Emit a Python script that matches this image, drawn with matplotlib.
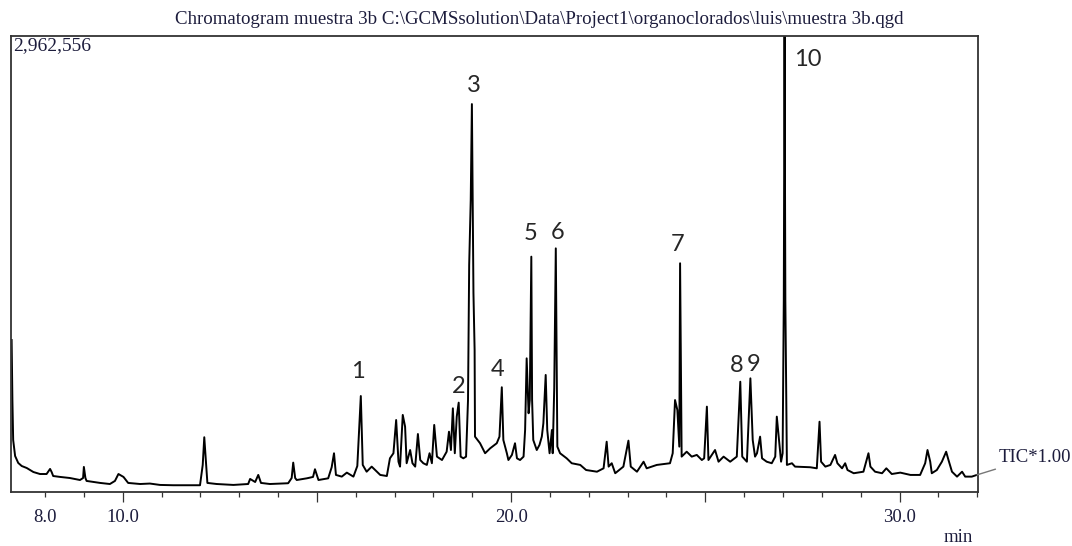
import matplotlib
matplotlib.use('Agg')
import matplotlib.pyplot as plt

# TIC trace (retention time in min, intensity in thousands of counts)
ret_time = [
    7.14, 7.16, 7.18, 7.23, 7.31, 7.40, 7.53, 7.70, 7.87, 8.04,
    8.13, 8.17, 8.21, 8.39, 8.64, 8.90, 8.98, 9.00, 9.04, 9.07,
    9.42, 9.67, 9.80, 9.89, 10.02, 10.14, 10.45, 10.70, 10.96, 11.30,
    11.99, 12.06, 12.10, 12.15, 12.18, 12.42, 12.85, 13.23, 13.28, 13.41,
    13.49, 13.56, 13.79, 14.26, 14.35, 14.39, 14.44, 14.48, 14.74, 14.90,
    14.95, 15.04, 15.29, 15.38, 15.44, 15.49, 15.64, 15.77, 15.94, 16.04,
    16.13, 16.18, 16.28, 16.41, 16.63, 16.80, 16.88, 16.97, 17.04, 17.10,
    17.14, 17.21, 17.27, 17.31, 17.40, 17.46, 17.53, 17.60, 17.66, 17.74,
    17.83, 17.90, 17.96, 18.02, 18.09, 18.22, 18.34, 18.40, 18.45, 18.50,
    18.55, 18.60, 18.65, 18.70, 18.77, 18.84, 18.89, 18.92, 18.96, 18.99,
    19.01, 19.03, 19.06, 19.07, 19.20, 19.33, 19.46, 19.63, 19.70, 19.76,
    19.80, 19.89, 19.93, 20.02, 20.10, 20.15, 20.23, 20.32, 20.36, 20.40,
    20.45, 20.48, 20.52, 20.54, 20.57, 20.66, 20.73, 20.79, 20.83, 20.89,
    20.93, 20.99, 21.05, 21.07, 21.11, 21.15, 21.19, 21.26, 21.43, 21.56,
    21.78, 21.93, 22.21, 22.38, 22.46, 22.51, 22.59, 22.68, 22.89, 23.02,
    23.08, 23.24, 23.41, 23.49, 23.75, 24.09, 24.16, 24.22, 24.28, 24.33,
    24.35, 24.39, 24.52, 24.65, 24.78, 24.91, 24.97, 25.04, 25.08, 25.25,
    25.34, 25.47, 25.64, 25.81, 25.90, 25.95, 26.07, 26.16, 26.22, 26.28,
    26.33, 26.41, 26.46, 26.58, 26.71, 26.80, 26.84, 26.88, 26.95, 26.99,
    27.02, 27.04, 27.06, 27.10, 27.23, 27.31, 27.70, 27.87, 27.94, 27.98,
    28.09, 28.22, 28.34, 28.40, 28.52, 28.60, 28.66, 28.82, 29.07, 29.20,
    29.25, 29.37, 29.55, 29.66, 29.80, 30.02, 30.28, 30.53, 30.66, 30.72,
    30.79, 30.83, 30.96, 31.09, 31.20, 31.26, 31.35, 31.48, 31.61, 31.69,
    31.86, 31.99,
]
tic_k = [
    986, 596, 336, 232, 187, 167, 154, 128, 115, 115,
    148, 128, 102, 96, 89, 76, 89, 161, 89, 70,
    57, 50, 70, 115, 96, 57, 50, 53, 44, 42,
    42, 174, 354, 174, 57, 50, 44, 50, 83, 63,
    109, 57, 50, 55, 89, 189, 89, 76, 87, 96,
    146, 76, 87, 159, 250, 109, 98, 124, 98, 167,
    622, 174, 130, 163, 109, 102, 217, 250, 466, 195,
    163, 499, 423, 185, 271, 185, 163, 375, 206, 185,
    174, 250, 185, 434, 228, 206, 260, 390, 271, 542,
    250, 488, 579, 228, 217, 228, 596, 1474, 1896, 2520,
    1896, 1292, 921, 358, 315, 250, 282, 315, 358, 679,
    336, 250, 206, 239, 315, 217, 206, 228, 401, 867,
    510, 596, 1528, 596, 336, 271, 304, 358, 445, 759,
    401, 250, 401, 250, 674, 1582, 293, 250, 217, 185,
    174, 141, 130, 152, 325, 163, 185, 120, 163, 332,
    163, 130, 195, 152, 174, 185, 250, 596, 531, 293,
    1485, 228, 260, 228, 239, 206, 217, 553, 206, 271,
    195, 228, 195, 228, 715, 228, 195, 737, 336, 228,
    250, 358, 217, 195, 185, 228, 488, 380, 195, 250,
    1246, 2963, 1246, 174, 185, 163, 159, 152, 455, 195,
    163, 174, 239, 185, 152, 185, 141, 120, 130, 250,
    163, 130, 120, 152, 115, 124, 109, 109, 185, 271,
    195, 120, 141, 195, 260, 206, 130, 98, 130, 98,
    98, 109,
]

# numbered peaks
peak_ids = ['1', '2', '3', '4', '5', '6', '7', '8', '9', '10']
peak_rt = [16.13, 18.65, 18.99, 19.76, 20.52, 21.15, 24.35, 25.90, 26.16, 27.04]
peak_top_k = [622, 579, 2520, 679, 1528, 1582, 1485, 715, 737, 2963]
# label offsets from the apex, in points
label_offsets = [(-2.4, 17.5), (-0.3, 11.5), (1.7, 13.7), (-3.2, 13), (-0.2, 16.8),
                 (1.2, 11.2), (-1.9, 13.2), (-2.4, 12), (2.4, 10), (16.8, -16.8)]

y_max_k = 2962.556
x_range = (7.124, 32.02)
title = r'Chromatogram muestra 3b C:\GCMSsolution\Data\Project1\organoclorados\luis\muestra 3b.qgd'

serif = 'Liberation Serif'
frame_col = '#333333'
text_col = '#1c1c3c'

fig = plt.figure(figsize=(10.72, 5.46), dpi=100)
ax = fig.add_axes([11 / 1072, 1 - 491.7 / 546, 967 / 1072, 455.7 / 546])

ax.plot(ret_time, tic_k, color='black', linewidth=1.4)
ax.set_xlim(*x_range)
ax.set_ylim(0, y_max_k)

for s in ax.spines.values():
    s.set_color(frame_col)
    s.set_linewidth(1.3)

ax.set_yticks([])
ax.set_xticks([10, 15, 20, 25, 30], labels=['10.0', '', '20.0', '', '30.0'])
minor = [m for m in range(8, 33) if m % 5 != 0]
ax.set_xticks(minor, labels=['8.0' if m == 8 else '' for m in minor], minor=True)
ax.tick_params(axis='x', which='major', length=7.2, width=0.9, color=frame_col, pad=5.5,
               labelsize=13.5, labelcolor=text_col)
ax.tick_params(axis='x', which='minor', length=3.6, width=0.9, color=frame_col, pad=9.1,
               labelsize=13.5, labelcolor=text_col)
for lab in ax.get_xticklabels(which='both'):
    lab.set_fontfamily(serif)

# peak numbers
for pid, rt, top, off in zip(peak_ids, peak_rt, peak_top_k, label_offsets):
    ax.annotate(pid, xy=(rt, min(top, y_max_k)), xytext=off, textcoords='offset points',
                ha='center', va='center', fontsize=17, family='Lato', color='#262626')

ax.text(0.0018, 0.997, '2,962,556', transform=ax.transAxes, ha='left', va='top',
        fontsize=14, family=serif, color=text_col)

ax.annotate('TIC*1.00', xy=(ret_time[-1], tic_k[-1]), xytext=(1.021, 0.076),
            textcoords='axes fraction', ha='left', va='center', fontsize=13.5,
            family=serif, color=text_col, annotation_clip=False,
            arrowprops=dict(arrowstyle='-', color='#777777', lw=1.0,
                            shrinkA=2, shrinkB=0))

fig.text(539.5 / 1072, 1 - 20 / 546, title, ha='center', va='center',
         fontsize=13.6, family=serif, color=text_col)
fig.text(958 / 1072, 1 - 538 / 546, 'min', ha='center', va='center',
         fontsize=13.5, family=serif, color=text_col)

plt.savefig('out.png', dpi=100)
plt.close()
